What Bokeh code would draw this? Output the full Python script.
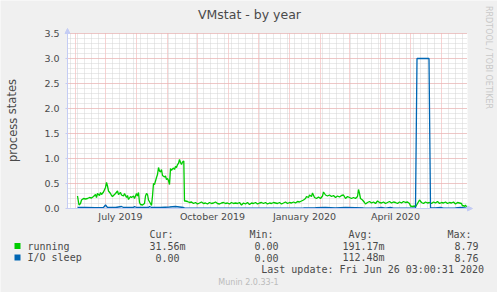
from datetime import date, timedelta
from bokeh.plotting import figure
from bokeh.models import (Range1d, FixedTicker, SingleIntervalTicker, Label, LinearAxis, Grid,
                          PrintfTickFormatter, BoxAnnotation, Arrow, NormalHead)
from bokeh.embed import file_html
from bokeh.resources import INLINE

# ---------------- data (x = days since 2019-06-01) ----------------
START = date(2019, 6, 1)

running_days = [2, 3.5, 5, 6, 8, 10, 12, 14, 16, 18, 20, 21, 22, 24, 25, 26, 28, 30, 31, 32,
                33, 35, 36, 37, 39, 40, 42, 43, 45, 46, 48, 49, 51, 52, 53, 55, 56, 58, 59, 61,
                62, 63, 64, 65, 67, 69, 70, 71, 72, 73, 75, 76, 77, 78, 79, 80, 81, 82, 83, 84,
                85, 86, 87, 89, 90, 91, 92, 93, 94, 95, 96, 97, 98, 99, 100, 101, 102, 103, 104,
                105, 106, 107, 108.3, 109,
                110, 112, 114, 116, 118, 120, 122, 124, 126, 128, 130, 132, 134, 136, 138, 140,
                142, 144, 146, 148, 150, 152, 154, 156, 158, 160, 162, 164, 166, 168, 170, 172,
                174, 176, 178, 180, 182, 184, 186, 188, 190, 192, 194, 196, 198, 200, 202, 204,
                206, 208, 210, 212, 214, 216, 218, 220, 222,
                224, 226, 228, 230, 231, 233, 234, 236, 237, 239, 241, 243, 245, 247, 248, 250,
                252, 254, 256, 258, 260, 262, 264, 266, 268, 270, 272, 274, 276, 278, 280, 282,
                283, 284, 285, 287, 289, 290,
                292, 294, 296, 298, 300, 302, 304, 306, 308, 310, 312, 314, 316, 318, 320, 322,
                324, 326, 328, 330, 332, 334, 335, 337, 339, 340, 342, 344, 346,
                348, 350, 352, 354, 356, 358, 360, 362, 364, 366, 368, 370, 372, 374, 376, 378,
                380, 382, 384, 386, 387, 388, 389, 390, 391]
running_vals = [0.25, 0.07, 0.10, 0.17, 0.20, 0.19, 0.20, 0.22, 0.21, 0.24, 0.28, 0.22, 0.30, 0.26,
                0.32, 0.28, 0.33, 0.42, 0.52, 0.45, 0.35, 0.30, 0.26, 0.24, 0.28, 0.30, 0.35, 0.28,
                0.32, 0.27, 0.25, 0.30, 0.22, 0.26, 0.18, 0.24, 0.22, 0.25, 0.20, 0.30, 0.25, 0.32,
                0.12, 0.08, 0.07, 0.10, 0.25, 0.30, 0.28, 0.17, 0.10, 0.06, 0.25, 0.50, 0.48, 0.55,
                0.62, 0.68, 0.82, 0.75, 0.73, 0.78, 0.66, 0.63, 0.65, 0.58, 0.60, 0.56, 0.48, 0.80,
                0.76, 0.79, 0.81, 0.78, 0.84, 0.82, 0.88, 0.90, 0.98, 0.92, 0.88, 0.93, 0.95, 0.15,
                0.15, 0.14, 0.12, 0.13, 0.10, 0.12, 0.09, 0.11, 0.13, 0.10, 0.11, 0.09, 0.12, 0.10,
                0.11, 0.13, 0.10, 0.09, 0.11, 0.12, 0.10, 0.11, 0.09, 0.12, 0.10, 0.11, 0.10, 0.12,
                0.07, 0.11, 0.09, 0.12, 0.08, 0.11, 0.10, 0.12, 0.09, 0.11, 0.12, 0.10, 0.12, 0.09,
                0.11, 0.10, 0.12, 0.11, 0.10, 0.12, 0.09, 0.11, 0.13, 0.10, 0.12, 0.11, 0.13, 0.11,
                0.14,
                0.13, 0.15, 0.17, 0.20, 0.24, 0.22, 0.27, 0.24, 0.31, 0.22, 0.20, 0.23, 0.20, 0.25,
                0.33, 0.27, 0.25, 0.27, 0.24, 0.26, 0.22, 0.25, 0.23, 0.26, 0.27, 0.20, 0.24, 0.22,
                0.20, 0.22, 0.20, 0.24, 0.38, 0.30, 0.20, 0.17, 0.12, 0.09,
                0.12, 0.14, 0.11, 0.13, 0.10, 0.15, 0.12, 0.11, 0.13, 0.10, 0.12, 0.14, 0.11, 0.13,
                0.12, 0.10, 0.13, 0.11, 0.14, 0.12, 0.13, 0.10, 0.05, 0.04, 0.05, 0.03, 0.10, 0.17,
                0.12,
                0.10, 0.13, 0.11, 0.12, 0.10, 0.13, 0.11, 0.14, 0.10, 0.12, 0.11, 0.13, 0.10, 0.12,
                0.11, 0.13, 0.09, 0.12, 0.11, 0.10, 0.05, 0.06, 0.04, 0.07, 0.03]

sleep_days = [2, 10, 20, 28, 30, 32, 40, 46, 48, 58, 59, 61, 73, 74, 76, 85, 94, 100, 104, 108,
              110, 150, 170, 200, 228, 240, 250, 260, 270, 280, 288, 300, 306, 310, 315, 318,
              330, 340, 341.5, 353.5, 355, 360, 365, 368, 380, 385, 391]
sleep_vals = [0.02, 0.02, 0.015, 0.02, 0.07, 0.02, 0.02, 0.04, 0.02, 0.02, 0.04, 0.02, 0.02,
              0.04, 0.02, 0.02, 0.03, 0.04, 0.03, 0.02, 0.005, 0.005, 0.008, 0.005, 0.01, 0.015,
              0.02, 0.012, 0.02, 0.015, 0.01, 0.005, 0.02, 0.005, 0.02, 0.005, 0.005, 0.005,
              3.0, 3.0, 0.01, 0.01, 0.02, 0.005, 0.01, 0.02, 0.005]

series_names = ["running", "I/O sleep"]
series_colors = ["#00CC00", "#0066B3"]
stat_headers = ["Cur:", "Min:", "Avg:", "Max:"]
running_stats = ["31.56m", "0.00", "191.17m", "8.79"]
sleep_stats = ["0.00", "0.00", "112.48m", "8.76"]

x_label_months = [(2019, 7), (2019, 10), (2020, 1), (2020, 4)]
x_labels = ["July 2019", "October 2019", "January 2020", "April 2020"]
y_ticks_interval = 0.5

title_text = "VMstat - by year"
y_axis_text = "process states"
last_update = "Last update: Fri Jun 26 03:00:31 2020"
munin_text = "Munin 2.0.33-1"
rrd_text = "RRDTOOL / TOBI OETIKER"

# ---------------- geometry (plot area in canvas pixels) ----------------
W, H = 497, 292
FL, FT, FW, FH = 67, 33, 400, 175
X0, X1 = -8, 392          # days shown in the plot area
Y0, Y1 = 0.0, 3.5


def sx(px):
    return X0 + (px - FL) * (X1 - X0) / FW


def sy(py):
    return Y1 - (py - FT) * (Y1 - Y0) / FH


month_days = []
y, m = 2019, 5
while True:
    d = (date(y, m, 1) - START).days
    if d > X1:
        break
    if d >= X0:
        month_days.append(d)
    m += 1
    if m > 12:
        m = 1
        y += 1
first_monday = START + timedelta(days=(7 - START.weekday()) % 7)
week_days = [(first_monday - START).days + 7 * k for k in range(-2, 60)]
week_days = [d for d in week_days if X0 <= d <= X1 and d not in month_days]
label_days = [(date(yy, mm, 1) - START).days + 15 for yy, mm in x_label_months]

AXC = "#C4CCF4"
TXT = "#4A4A4A"
MGRID = "#F2A4A4"
GRID = "#D4D4D4"

p = figure(width=W, height=H, output_backend="svg", toolbar_location=None,
           x_range=Range1d(sx(0), sx(W)), y_range=Range1d(sy(H), sy(0)),
           x_axis_type=None, y_axis_type=None,
           min_border_left=0, min_border_right=0, min_border_top=0, min_border_bottom=0)
p.background_fill_color = "#F0F0F0"
p.border_fill_color = "#F0F0F0"
p.outline_line_color = None

# white canvas of the plot area
p.quad(left=[X0], right=[X1], bottom=[Y0], top=[Y1], fill_color="#FFFFFF",
       line_color=None, level="image")

# grids
HAS_CB = "cross_bounds" in Grid.properties()
xticker = FixedTicker(ticks=month_days, minor_ticks=week_days)
yticker = SingleIntervalTicker(interval=y_ticks_interval, num_minor_ticks=5)
if HAS_CB:
    gx = Grid(dimension=0, ticker=xticker, bounds=(X0, X1), cross_bounds=(Y0, Y1))
    gy = Grid(dimension=1, ticker=yticker, bounds=(Y0, Y1), cross_bounds=(X0, X1))
    for g in (gx, gy):
        g.grid_line_color = MGRID
        g.grid_line_dash = "1 1"
        g.minor_grid_line_color = GRID
        g.minor_grid_line_dash = "1 1"
        p.add_layout(g)
else:
    ymaj = [i * 0.5 for i in range(8)]
    ymin = [i * 0.1 for i in range(36) if i % 5]
    p.segment(x0=week_days, x1=week_days, y0=Y0, y1=Y1, line_color=GRID, line_dash="1 1",
              level="underlay")
    p.segment(x0=X0, x1=X1, y0=ymin, y1=ymin, line_color=GRID, line_dash="1 1",
              level="underlay")
    p.segment(x0=month_days, x1=month_days, y0=Y0, y1=Y1, line_color=MGRID, line_dash="1 1",
              level="underlay")
    p.segment(x0=X0, x1=X1, y0=ymaj, y1=ymaj, line_color=MGRID, line_dash="1 1",
              level="underlay")

# axes
xaxis = LinearAxis(ticker=FixedTicker(ticks=label_days), fixed_location=0, bounds=(X0, X1))
xaxis.major_label_overrides = {d: t for d, t in zip(label_days, x_labels)}
yaxis = LinearAxis(ticker=yticker, formatter=PrintfTickFormatter(format="%.1f"),
                   fixed_location=X0, bounds=(Y0, Y1))
for ax in (xaxis, yaxis):
    ax.axis_line_color = AXC
    ax.major_tick_in = 0
    ax.minor_tick_line_color = None
    ax.major_label_text_font = "DejaVu Sans"
    ax.major_label_text_font_size = "9.5px"
    ax.major_label_text_color = TXT
xaxis.major_tick_line_color = None
xaxis.major_tick_out = 0
xaxis.major_label_standoff = 2
yaxis.major_tick_out = 2
yaxis.major_tick_line_color = AXC
yaxis.major_label_standoff = 4
p.add_layout(xaxis, "below")
p.add_layout(yaxis, "left")

# data lines
p.line(running_days, running_vals, line_color=series_colors[0], line_width=1.3)
p.line(sleep_days, sleep_vals, line_color=series_colors[1], line_width=1.3)

# axis arrows
p.add_layout(Arrow(end=NormalHead(size=5, fill_color=AXC, line_color=AXC), line_color=AXC,
                   x_start=X1, y_start=0, x_end=sx(472), y_end=0))
p.add_layout(Arrow(end=NormalHead(size=5, fill_color=AXC, line_color=AXC), line_color=AXC,
                   x_start=X0, y_start=Y1, x_end=X0, y_end=sy(28)))


def label(text, px, py, size, font="DejaVu Sans", color=TXT, align="left", angle=0.0,
          baseline="middle"):
    p.add_layout(Label(x=sx(px), y=sy(py), text=text, text_font=font,
                       text_font_size=size, text_color=color, text_align=align,
                       text_baseline=baseline, angle=angle))


label(title_text, 249, 14, "12.5px", align="center")
label(y_axis_text, 12, 120, "11.5px", angle=1.5708, align="center")
label(rrd_text, 488, 57, "8px", color="#C8C8C8", angle=-1.5708, align="center")

MONO = "DejaVu Sans Mono"
CW = 6.02
col_left = [149, 249, 348, 447]
col_right = [179, 278, 378, 478]
for h, cl in zip(stat_headers, col_left):
    label(h, cl, 234, "10px", font=MONO)
for row, (name, col, stats) in enumerate(zip(series_names, series_colors,
                                              [running_stats, sleep_stats])):
    yy = 245.5 + row * 11.5
    p.add_layout(BoxAnnotation(left=sx(14), right=sx(20), top=sy(yy - 3), bottom=sy(yy + 3),
                               fill_color=col, fill_alpha=1.0, line_color=None))
    label(name, 27, yy, "10px", font=MONO)
    for s, cr in zip(stats, col_right):
        rx = cr + (CW if s[-1].isalpha() else 0)
        label(s, rx, yy, "10px", font=MONO, align="right")
label(last_update, 483.5, 268.5, "10px", font=MONO, align="right")
label(munin_text, 248, 281.5, "8px", color="#BBBBBB", align="center")

open("out.html", "w").write(file_html(p, INLINE))
